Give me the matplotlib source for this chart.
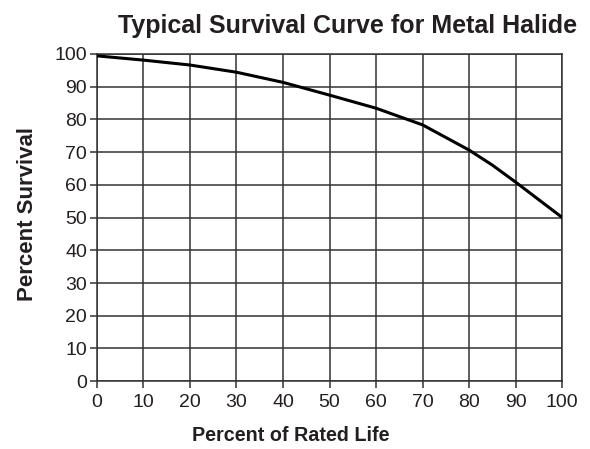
import matplotlib
matplotlib.use('Agg')
import matplotlib.pyplot as plt

# values
life_pct = [0, 10, 20, 30, 40, 50, 60, 70, 80, 85, 90, 100]
survival_pct = [99.4, 98.1, 96.6, 94.4, 91.3, 87.4, 83.4, 78.3, 70.6, 66.0, 60.8, 50.0]

x_ticks = list(range(0, 101, 10))
y_ticks = list(range(0, 101, 10))

plt.rcParams['font.family'] = ['Liberation Sans', 'DejaVu Sans']

fig = plt.figure(figsize=(5.9, 4.49), dpi=100)
ax = fig.add_axes([0.164, 0.151, 0.789, 0.729])

ax.plot(life_pct, survival_pct, color='black', linewidth=2.2, zorder=3)

ax.set_xlim(0, 100)
ax.set_ylim(0, 100)
ax.set_xticks(x_ticks)
ax.set_yticks(y_ticks)
ax.grid(True, color='#333333', linewidth=1.1)
for s in ax.spines.values():
    s.set_color('#333333')
    s.set_linewidth(1.1)
ax.tick_params(direction='out', length=5, width=1.1, color='#333333',
               labelsize=14, labelcolor='#231f20', pad=2)
ax.tick_params(axis='x', pad=4)

ax.set_title('Typical Survival Curve for Metal Halide', fontsize=18,
             fontweight='bold', color='#231f20', pad=15, x=0.538)
ax.set_xlabel('Percent of Rated Life', fontsize=14.2, fontweight='bold',
              color='#231f20', labelpad=11, x=0.417)
ax.set_ylabel('Percent Survival', fontsize=16, fontweight='bold',
              color='#231f20', labelpad=12, y=0.51)

fig.savefig('out.png', dpi=100)
